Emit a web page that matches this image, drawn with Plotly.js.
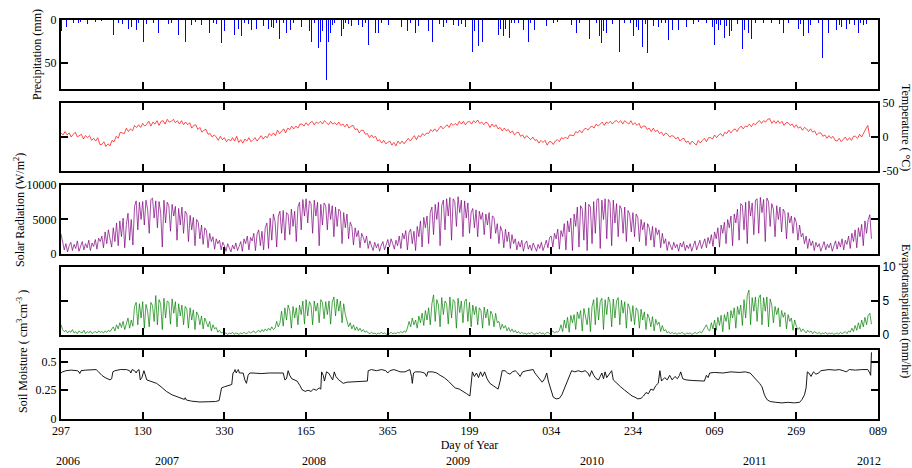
<!DOCTYPE html>
<html><head><meta charset="utf-8">
<script src="https://cdn.plot.ly/plotly-3.0.1.min.js"></script>
<style>html,body{margin:0;padding:0;background:#fff}#chart{width:912px;height:468px}</style>
</head><body><div id="chart"></div>
<script>
// ---- x axis (day index since 2006 day 297) ----
const xTickVals = [0,200,400,600,800,1000,1200,1400,1600,1800,2000];
const xTickText = ['297','130','330','165','365','199','034','234','069','269','089'];
const yearLabels = ['2006','2007','2008','2009','2010','2011','2012'];
const yearDay = [17,259,619,972,1300,1699,1978];

// ---- precipitation events (day index, mm) ----
const precipDay = [2,5,10,14,22,30,37,42,47,59,64,71,78,85,100,120,128,140,150,154,159,165,173,179,184,190,202,210,218,226,238,250,263,270,287,304,320,330,344,355,363,373,381,392,401,414,424,434,442,450,459,467,479,487,495,508,516,520,528,534,545,552,561,570,580,589,595,600,608,614,620,624,630,636,641,646,650,654,659,664,670,683,687,691,697,703,712,720,728,738,745,752,761,769,777,785,793,801,815,834,842,848,855,862,867,875,884,891,899,910,918,926,930,936,944,952,960,973,981,991,996,1001,1007,1013,1022,1031,1038,1045,1060,1067,1071,1076,1083,1089,1098,1103,1110,1120,1133,1144,1150,1160,1175,1189,1197,1205,1215,1236,1250,1262,1270,1283,1293,1300,1310,1319,1324,1328,1336,1344,1350,1356,1368,1380,1395,1401,1409,1413,1424,1430,1436,1442,1450,1462,1470,1480,1487,1497,1511,1520,1532,1548,1560,1580,1589,1595,1599,1605,1609,1615,1625,1630,1636,1642,1650,1656,1662,1669,1674,1683,1691,1700,1711,1720,1740,1748,1758,1768,1780,1797,1805,1810,1817,1824,1829,1835,1846,1855,1865,1878,1885,1899,1905,1911,1923,1930,1942,1952,1958,1964,1972,1978];
const precipMm = [13,3,6,8,31,4,35,3,2,19,5,8,4,2,1,3,17,3,5,11,6,10,8,5,12,3,26,5,7,4,15,2,5,3,17,26,6,2,6,3,15,4,5,27,13,8,17,10,18,3,5,12,11,4,7,10,8,9,3,22,4,15,12,3,5,8,11,19,13,25,4,23,33,25,13,20,69,25,15,6,3,17,19,11,4,5,7,3,6,8,4,29,8,15,15,3,24,6,2,8,22,13,4,6,15,7,3,39,13,25,27,5,3,8,4,4,6,7,5,8,5,17,37,13,30,26,15,3,4,6,17,10,18,11,21,4,3,4,12,26,3,12,3,7,10,3,2,33,6,15,4,7,22,5,4,18,27,13,15,21,5,15,37,4,3,19,8,12,31,5,38,15,7,8,4,3,23,12,12,3,8,5,2,4,5,8,29,5,12,6,21,7,19,13,15,5,23,34,12,15,22,3,5,3,4,13,5,15,3,8,11,5,19,49,15,6,8,4,44,15,5,12,6,8,11,5,6,15,4,6,5,3];

// ---- temperature (degC), every 5 days from day index 0 ----
const tempStep = 5;
const tempC = [
6,3,8,3,6,0,4,7,0,2,4,-3,2,-1,2,-5,-2,-6,-1,-11,
-11,-7,-14,-10,-13,-5,-7,1,-2,7,6,5,13,8,12,9,17,14,18,14,
20,16,19,23,16,22,19,24,17,23,24,19,26,22,23,26,21,24,19,24,
18,22,18,21,13,17,18,11,14,7,10,11,4,5,0,3,0,-5,1,-4,
-1,-7,-3,-6,-1,-6,1,-8,-4,-9,-3,-6,-1,-7,-4,-1,-6,-1,2,-3,
1,-1,5,2,6,2,10,5,9,12,6,13,11,16,12,16,13,19,19,16,
21,17,21,23,18,22,20,23,19,24,21,18,23,19,21,18,22,17,19,15,
19,13,16,17,11,12,6,10,10,4,5,-1,3,-1,1,-6,-4,-9,-5,-10,
-8,-6,-12,-8,-13,-6,-10,-6,-10,-5,-2,-6,-2,2,-4,2,0,5,2,6,
5,11,8,12,8,13,16,12,15,18,14,20,17,20,17,23,19,23,18,22,
23,19,24,21,25,20,22,18,22,20,14,19,15,18,12,14,9,13,9,11,
6,9,3,6,7,1,3,-2,2,-1,-4,0,-5,-4,-9,-5,-8,-5,-12,-7,
-7,-11,-6,-4,-7,-1,-3,0,-3,3,3,2,8,6,10,6,11,13,10,14,
16,13,19,16,19,22,17,22,20,23,19,23,24,21,24,19,24,22,19,24,
18,21,17,20,13,16,16,11,13,8,13,8,10,5,7,2,6,4,0,2,
1,-3,0,-6,-3,-2,-8,-6,-11,-6,-9,-12,-5,-9,-5,-2,-7,-1,-1,-3,
3,-1,3,5,1,7,5,10,6,10,12,8,13,16,12,16,15,19,15,20,
18,22,24,20,24,22,26,27,20,24,20,24,20,23,17,21,21,17,19,14,
18,13,15,10,14,12,8,12,7,9,3,6,6,1,3,-2,2,-2,1,-5,
-6,-2,-7,-3,0,-5,-1,-5,1,1,-2,4,0,6,11,17,0];

// ---- solar radiation (W/m2), every 4 days from day index 0 ----
const solarStep = 4;
const solarW = [
2900,1800,600,1500,300,1200,1700,500,1400,800,1900,400,1300,1800,600,1500,900,2000,500,1600,1100,2100,700,2300,1800,
2600,900,3200,1500,3500,2200,1000,3800,1800,4500,1200,4800,2500,5200,900,4300,5900,2000,5000,1300,6900,7700,3500,7500,5000,
7600,4200,7800,6500,3000,7900,8100,5200,7700,3800,7600,6000,1000,7800,4500,7500,7000,3300,7200,5500,6900,2000,6600,4200,6800,
3000,6200,5800,1800,5600,3500,5300,1200,5000,4600,2200,4200,1400,3800,3400,900,3000,1800,2500,700,2200,1500,2000,600,1700,
1200,400,1500,900,300,1300,700,1600,500,1100,1800,400,2200,1500,2600,600,2400,1900,3000,500,2900,3500,1200,3300,600,
3800,4500,800,5200,2000,5800,4700,1000,5500,6200,3000,6300,2000,6000,5700,2800,6500,4000,6200,1800,6800,7500,3500,7900,5500,
8000,4500,7700,7300,3000,7800,5500,7500,1200,7200,4200,7400,7000,3500,7300,5000,7000,2500,6800,4000,6500,6200,1500,6000,3800,
5800,2200,4600,4000,1300,3800,2500,3400,900,3000,2400,1600,2600,800,1900,1200,500,1700,900,1500,400,1300,1800,600,1400,
2100,1000,2200,1500,700,2000,1200,2600,800,3000,2200,3400,600,3100,3600,1500,3300,500,4000,2500,4800,1000,5300,3800,5500,
1500,6000,6800,2800,7200,5000,7500,1200,7000,7800,3500,8000,5500,8200,2000,8000,7600,4000,8300,6000,7800,2500,7700,5200,7400,
3000,6000,6600,3800,6400,2500,6200,5000,6000,2800,5800,4200,6000,2200,5500,5300,3000,4400,1500,4000,3300,900,3600,1800,3200,
800,2800,1500,2200,600,1800,1000,2000,400,1500,1900,700,1300,500,1600,1100,400,1400,800,1700,500,1200,2000,900,2400,
2600,1000,3000,2200,3600,700,3400,2500,4400,600,4800,3200,5200,500,5800,4000,6800,1000,7000,6500,2000,7500,500,7200,6800,
1500,7600,3000,7900,8000,800,7800,5000,8000,2200,7900,7500,1200,7800,4500,7300,2500,7000,6500,3000,6800,1800,6300,5800,3200,
6000,2500,5800,5300,1800,5000,3500,4600,1200,4400,3800,2000,4000,1000,3800,2800,3500,900,3000,1500,2200,500,1800,1200,600,
1700,900,1400,400,1600,1000,1800,500,1300,800,1500,400,1200,1900,600,1400,2000,800,1700,2200,900,2400,1500,2800,1100,
3200,2200,3800,1000,4200,3000,4600,1500,5000,3800,5500,1200,5800,4500,6500,2000,7300,7000,3500,7500,1500,7700,5500,7400,2800,
7800,8000,3000,8200,6000,7900,1800,8100,7600,4000,7300,6500,2500,7000,5000,6800,3200,6500,6000,2200,6000,4500,5500,3000,5300,
4600,2000,4200,2500,3000,1500,2600,800,2200,1200,1900,500,1700,1000,1500,400,1300,1800,600,1400,900,1600,400,1200,1900,
700,1800,1000,2200,600,2000,1400,2600,800,3000,1800,3500,900,3800,2500,4300,1200,4800,3000,5000,5700,2200];

// ---- evapotranspiration (mm/hr), every 4 days from day index 0 ----
const etStep = 4;
const etMm = [
1.5,0.8,0.5,0.7,0.3,0.6,0.4,0.8,0.3,0.5,0.2,0.6,0.4,0.3,0.7,0.2,0.5,0.3,0.6,0.2,0.4,0.5,0.3,0.6,0.4,
0.5,0.3,0.6,0.4,0.7,0.5,0.9,1.2,0.6,1.5,0.9,1.8,1.1,2.0,0.8,1.6,2.5,1.0,2.2,1.3,4.2,4.8,1.5,4.6,2.5,
4.9,1.0,4.5,3.5,1.2,4.8,4.3,2.0,5.8,1.5,5.2,4.6,0.8,5.4,2.5,5.0,4.8,1.6,5.3,3.2,4.9,1.2,4.6,2.8,4.4,
1.5,4.2,3.8,1.0,4.0,2.2,3.7,0.8,3.4,2.9,1.5,2.8,0.9,2.5,1.8,1.2,2.0,0.6,1.5,0.9,1.1,0.4,0.7,0.3,0.4,
0.2,0.3,0.1,0.3,0.2,0.4,0.1,0.3,0.2,0.1,0.3,0.2,0.4,0.2,0.3,0.5,0.3,0.4,0.6,0.3,0.5,0.7,0.4,0.8,0.5,
0.9,0.6,1.0,0.7,1.2,0.8,1.0,2.0,1.2,1.8,3.5,1.3,4.0,2.2,4.4,3.6,1.0,4.2,2.5,4.0,1.5,4.4,3.0,5.0,1.6,
5.2,2.8,4.9,4.4,1.5,5.0,3.5,4.7,1.8,5.2,4.8,2.4,4.9,3.0,5.0,1.6,4.8,5.6,2.8,5.3,3.5,5.0,1.8,4.6,3.0,
2.0,1.2,1.8,0.9,1.5,0.7,1.2,0.6,1.0,0.5,0.8,0.4,0.6,0.3,0.2,0.4,0.2,0.3,0.1,0.3,0.2,0.4,0.2,0.3,0.1,
0.3,0.2,0.4,0.2,0.3,0.2,0.4,0.3,0.5,0.3,0.6,0.4,1.0,2.0,1.2,2.5,1.5,2.2,1.0,2.8,1.8,3.2,1.4,3.6,2.2,
4.0,1.5,4.6,5.9,2.0,5.2,4.4,1.2,5.5,3.0,5.0,4.6,1.6,5.6,2.5,5.2,4.9,1.0,5.4,3.3,5.0,1.8,4.9,5.3,2.0,
4.8,1.2,4.4,3.0,4.2,1.5,4.0,3.6,1.0,4.1,2.5,3.8,1.4,3.5,3.0,1.2,3.2,1.8,2.0,0.8,1.6,1.0,1.4,0.6,1.1,
0.5,0.9,0.4,0.7,0.3,0.5,0.2,0.4,0.2,0.3,0.1,0.3,0.2,0.4,0.2,0.1,0.3,0.2,0.4,0.2,0.3,0.1,0.3,0.4,0.2,
0.4,0.6,0.3,0.5,0.4,0.7,1.5,0.5,2.2,1.0,2.6,0.4,2.9,1.8,3.0,0.8,3.4,2.4,3.6,0.6,3.9,2.8,1.5,4.0,0.5,
4.2,5.2,1.5,5.5,2.2,4.9,5.4,0.8,5.2,3.0,5.6,4.8,1.2,5.3,2.5,5.0,5.5,1.5,5.1,3.2,4.9,1.0,4.6,4.0,2.0,
4.3,1.5,4.0,3.6,1.0,3.8,2.2,3.4,0.8,3.1,2.5,1.2,2.7,0.6,2.3,1.5,1.9,0.5,1.4,0.6,0.8,0.3,0.5,0.2,0.4,
0.2,0.3,0.1,0.3,0.2,0.4,0.2,0.1,0.3,0.2,0.3,0.1,0.2,0.4,0.2,0.3,0.5,0.3,0.7,1.0,1.5,0.8,0.6,1.8,0.9,
2.2,0.7,2.6,1.4,2.9,0.5,3.0,2.0,3.4,0.8,3.6,2.5,4.0,1.0,4.2,3.0,4.4,1.4,5.2,2.5,5.8,6.6,1.5,5.5,3.5,
5.6,2.0,5.4,5.9,1.5,5.5,3.5,5.6,1.2,5.3,4.4,1.8,4.2,3.0,4.0,1.2,3.6,2.6,3.3,0.9,3.0,2.0,2.5,0.7,2.2,
1.3,0.8,1.1,0.5,0.9,0.6,0.3,0.7,0.4,0.6,0.2,0.5,0.3,0.2,0.4,0.1,0.3,0.2,0.4,0.1,0.3,0.2,0.3,0.1,0.2,
0.3,0.1,0.4,0.2,0.3,0.5,0.2,0.6,0.4,1.0,0.5,1.4,0.7,1.8,0.9,2.2,1.2,2.6,1.5,2.9,3.2,1.6];

// ---- soil moisture (cm3/cm3) at day index ----
const soilDay = [0,4,12,25,40,44,46,49,60,75,86,92,100,108,115,120,124,127,132,145,160,168,171,174,180,184,187,191,194,198,203,207,210,218,226,234,245,258,272,286,298,302,304,307,320,340,360,378,387,390,393,400,410,418,421,424,426,429,432,434,437,446,450,454,458,462,470,490,510,530,544,548,552,556,560,565,572,578,585,590,598,605,612,618,625,632,636,638,642,645,650,655,660,665,669,673,680,686,691,700,720,740,750,752,760,772,785,795,800,805,815,823,830,842,854,858,860,863,867,880,890,895,898,910,920,928,938,948,958,965,975,985,993,1001,1004,1007,1012,1017,1022,1027,1032,1037,1043,1050,1058,1065,1070,1075,1080,1087,1093,1099,1105,1112,1118,1124,1130,1140,1150,1156,1160,1166,1172,1178,1184,1189,1193,1199,1205,1212,1220,1226,1232,1240,1246,1250,1258,1266,1275,1283,1290,1294,1299,1304,1310,1316,1320,1324,1328,1332,1336,1341,1348,1352,1360,1370,1380,1390,1398,1405,1412,1420,1426,1432,1438,1444,1450,1456,1462,1466,1470,1478,1484,1490,1496,1503,1509,1514,1517,1522,1530,1545,1560,1575,1580,1584,1588,1600,1620,1640,1660,1675,1687,1695,1703,1710,1716,1722,1728,1736,1750,1765,1780,1795,1808,1814,1820,1824,1827,1831,1836,1842,1848,1855,1860,1880,1895,1905,1915,1922,1930,1945,1960,1975,1980,1982,1984];
const soilVal = [0.40,0.41,0.42,0.425,0.42,0.41,0.395,0.42,0.425,0.43,0.43,0.41,0.38,0.36,0.345,0.34,0.35,0.41,0.42,0.43,0.43,0.42,0.40,0.43,0.42,0.40,0.42,0.43,0.34,0.36,0.42,0.38,0.34,0.33,0.32,0.31,0.28,0.24,0.21,0.19,0.175,0.17,0.185,0.165,0.155,0.148,0.15,0.152,0.16,0.21,0.27,0.28,0.29,0.30,0.40,0.41,0.43,0.40,0.42,0.43,0.40,0.40,0.34,0.31,0.38,0.40,0.40,0.395,0.40,0.40,0.40,0.34,0.35,0.42,0.38,0.35,0.34,0.33,0.29,0.255,0.24,0.25,0.24,0.26,0.25,0.27,0.26,0.41,0.38,0.33,0.41,0.40,0.37,0.34,0.41,0.37,0.34,0.32,0.31,0.32,0.325,0.325,0.33,0.42,0.43,0.42,0.43,0.42,0.40,0.42,0.43,0.42,0.41,0.41,0.43,0.37,0.31,0.40,0.41,0.41,0.40,0.37,0.41,0.41,0.40,0.38,0.36,0.33,0.29,0.27,0.26,0.24,0.22,0.20,0.28,0.41,0.37,0.40,0.36,0.41,0.37,0.41,0.35,0.31,0.29,0.27,0.26,0.33,0.42,0.42,0.40,0.39,0.41,0.42,0.40,0.37,0.41,0.42,0.43,0.43,0.40,0.37,0.34,0.32,0.35,0.40,0.33,0.25,0.19,0.175,0.18,0.21,0.26,0.34,0.39,0.42,0.41,0.42,0.41,0.42,0.40,0.37,0.42,0.38,0.35,0.34,0.37,0.40,0.35,0.41,0.36,0.39,0.42,0.34,0.31,0.28,0.25,0.22,0.20,0.19,0.175,0.18,0.20,0.23,0.22,0.26,0.25,0.29,0.31,0.42,0.33,0.36,0.34,0.38,0.34,0.37,0.35,0.38,0.41,0.35,0.34,0.335,0.33,0.33,0.38,0.36,0.40,0.405,0.40,0.41,0.405,0.41,0.40,0.37,0.34,0.31,0.28,0.21,0.17,0.152,0.145,0.14,0.145,0.14,0.145,0.17,0.21,0.27,0.41,0.40,0.37,0.41,0.39,0.40,0.42,0.43,0.425,0.43,0.42,0.41,0.43,0.425,0.43,0.43,0.40,0.38,0.58];

// ---- build traces ----
const idx = (n, step) => Array.from({length:n}, (_, i) => i * step);
const SERIF = 'Liberation Serif, Times New Roman, serif';
const SANS = 'Liberation Sans, Arial, sans-serif';

const traces = [
  {type:'bar', x:precipDay, y:precipMm, width:1.8, marker:{color:'#0000ff', line:{width:0}}, xaxis:'x', yaxis:'y', hoverinfo:'skip'},
  {type:'scatter', mode:'lines', x:idx(tempC.length,tempStep), y:tempC, line:{color:'#ff0000', width:0.7}, xaxis:'x2', yaxis:'y2'},
  {type:'scatter', mode:'lines', x:idx(solarW.length,solarStep), y:solarW, line:{color:'#800080', width:0.7}, xaxis:'x3', yaxis:'y3'},
  {type:'scatter', mode:'lines', x:idx(etMm.length,etStep), y:etMm, line:{color:'#008000', width:0.7}, xaxis:'x4', yaxis:'y4'},
  {type:'scatter', mode:'lines', x:soilDay, y:soilVal, line:{color:'#000000', width:0.9}, xaxis:'x5', yaxis:'y5'}
];

const axBase = {showline:true, linewidth:2, linecolor:'#000', ticks:'inside', ticklen:7, tickwidth:2, tickcolor:'#000',
  showgrid:false, zeroline:false, tickfont:{family:SERIF, size:12, color:'#000'}, fixedrange:true};
const doms = [[0.827,1],[0.6216,0.792],[0.4135,0.5865],[0.2105,0.381],[0,0.1729]];

const layout = {
  width:912, height:468, paper_bgcolor:'#fff', plot_bgcolor:'#fff', showlegend:false,
  margin:{l:61, r:34, t:20, b:49}, bargap:0,
  font:{family:SERIF, size:12, color:'#000'},
  annotations:[]
};
for (let k = 1; k <= 5; k++) {
  const xn = k === 1 ? 'xaxis' : 'xaxis' + k;
  const yn = k === 1 ? 'yaxis' : 'yaxis' + k;
  layout[xn] = Object.assign({}, axBase, {
    range:[0,2000], tickvals:xTickVals, ticktext:xTickText, anchor: k === 1 ? 'y' : 'y' + k,
    showticklabels: k === 5, mirror: k === 1 ? true : 'ticks'
  });
  layout[yn] = Object.assign({}, axBase, {domain:doms[k-1], anchor: k === 1 ? 'x' : 'x' + k, mirror:'ticks'});
}
layout.xaxis5.title = {text:'Day of Year', font:{family:SERIF, size:12}, standoff:2};
Object.assign(layout.yaxis,  {range:[80,0], tickvals:[0,50], ticktext:['0','50']});
Object.assign(layout.yaxis2, {range:[-50,50], tickvals:[-50,0,50], ticktext:['-50','0','50'], side:'right'});
Object.assign(layout.yaxis3, {range:[0,10000], tickvals:[0,5000,10000], ticktext:['0','5000','10000']});
Object.assign(layout.yaxis4, {range:[0,10], tickvals:[0,5,10], ticktext:['0','5','10'], side:'right', tickfont:{family:SANS, size:12, color:'#000'}});
Object.assign(layout.yaxis5, {range:[0,0.6], tickvals:[0,0.25,0.5], ticktext:['0','0.25','0.5']});

const px = v => (v - 61) / 817;
const py = v => (419 - v) / 399;
const sideTitles = [
  {text:'Precipitation (mm)', x:px(37), y:py(55), a:-90},
  {text:'Solar Radiation (W/m<sup>2</sup>)', x:px(19), y:py(210), a:-90},
  {text:'Soil Moisture ( cm<sup>3</sup>cm<sup>-3</sup> )', x:px(22), y:py(352), a:-90},
  {text:'Temperature ( °C)', x:px(906), y:py(128), a:90},
  {text:'Evapotranspiration (mm/hr)', x:px(906), y:py(311), a:90}
];
sideTitles.forEach(t => layout.annotations.push({text:t.text, xref:'paper', yref:'paper', x:t.x, y:t.y,
  xanchor:'center', yanchor:'middle', textangle:t.a, showarrow:false, font:{family:SERIF, size:12, color:'#000'}}));
yearLabels.forEach((t, i) => layout.annotations.push({text:t, xref:'x5', yref:'paper', x:yearDay[i], y:py(461),
  xanchor:'center', yanchor:'middle', showarrow:false, font:{family:SERIF, size:12, color:'#000'}}));

Plotly.newPlot('chart', traces, layout, {staticPlot:true, displayModeBar:false});
</script>
</body></html>
